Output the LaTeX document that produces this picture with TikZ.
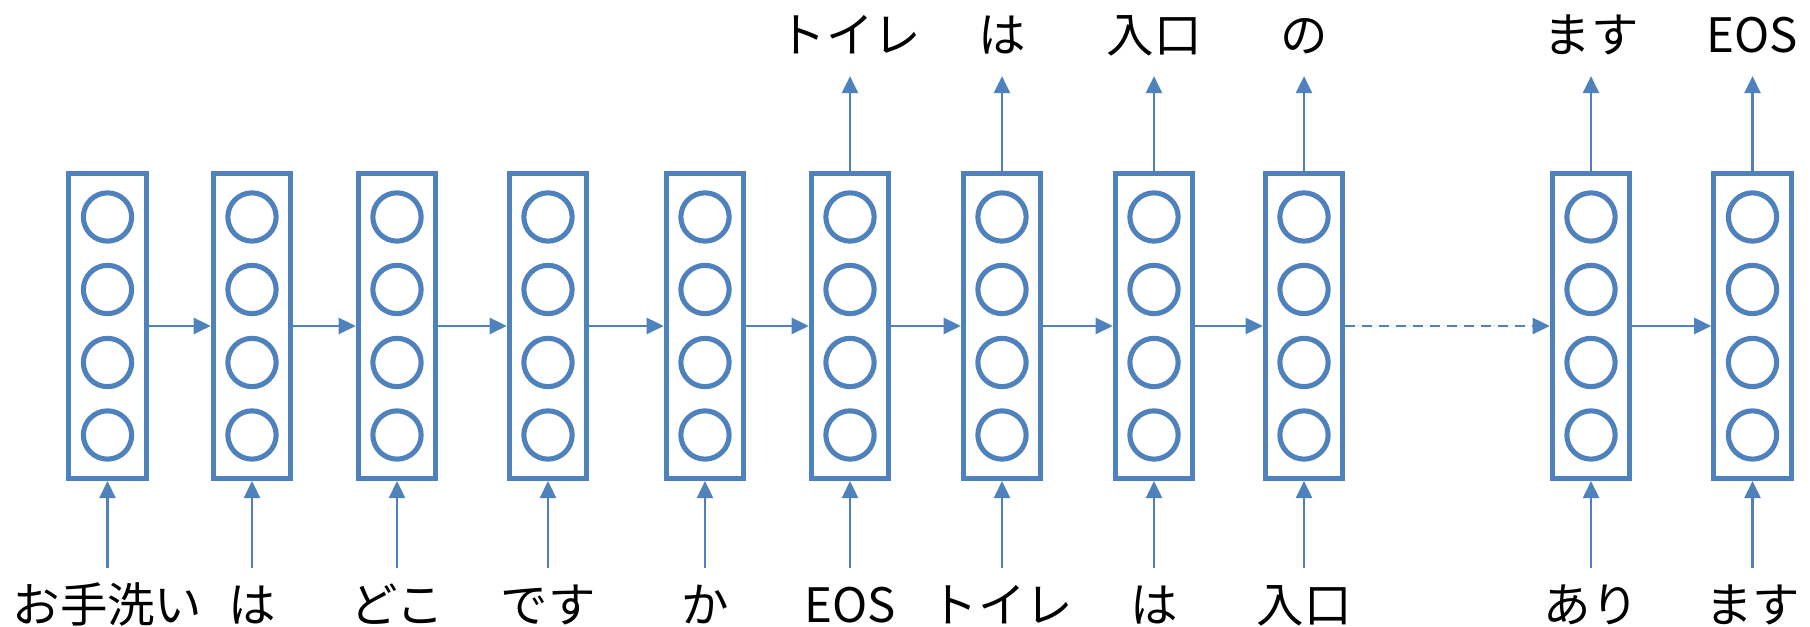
\documentclass[tikz,border=0pt]{standalone}
\usepackage{fontspec}
\setmainfont{Noto Sans CJK JP}
\usetikzlibrary{arrows.meta}
\definecolor{cellblue}{RGB}{79,129,189}

\begin{document}
\begin{tikzpicture}[cell/.style={draw=cellblue, line width=2.9pt,
                        minimum width=1.55cm, minimum height=6.1cm, inner sep=0pt,
                        path picture={
                          \draw[cellblue, line width=2.9pt] ([yshift=2.18cm]path picture bounding box.center) circle (0.483cm);
                          \draw[cellblue, line width=2.9pt] ([yshift=0.73cm]path picture bounding box.center) circle (0.483cm);
                          \draw[cellblue, line width=2.9pt] ([yshift=-0.73cm]path picture bounding box.center) circle (0.483cm);
                          \draw[cellblue, line width=2.9pt] ([yshift=-2.18cm]path picture bounding box.center) circle (0.483cm);
                        }},
                    word/.style={font=\fontsize{27}{32}\selectfont, text height=23.8pt,
                        text depth=3.2pt, inner sep=0pt, anchor=base},
                    word in/.style={word, outer sep=0.25cm},
                    word out/.style={word, outer sep=0.36cm},
                    link/.style={-{Triangle[length=0.34cm, width=0.32cm]}, draw=cellblue,
                        fill=cellblue, line width=1.45pt}]
      \useasboundingbox (0,0) rectangle (36.2,12.54);
      % hidden layers
      \node[cell] (otearai) at (2.15, 6.02) {};
      \node[cell] (wa) at (5.04, 6.02) {};
      \node[cell] (doko) at (7.94, 6.02) {};
      \node[cell] (desu) at (10.96, 6.02) {};
      \node[cell] (ka) at (14.10, 6.02) {};
      \node[cell] (eos) at (17.00, 6.02) {};
      \node[cell] (toire) at (20.04, 6.02) {};
      \node[cell] (wa_2) at (23.08, 6.02) {};
      \node[cell] (iriguchi) at (26.08, 6.02) {};
      \node[cell] (ari) at (31.82, 6.02) {};
      \node[cell] (masu) at (35.05, 6.02) {};
      % input words
      \node[word in] (otearai_in) at (2.15, 0.09) {お手洗い};
      \node[word in] (wa_in) at (5.04, 0.09) {は};
      \node[word in] (doko_in) at (7.94, 0.09) {どこ};
      \node[word in] (desu_in) at (10.96, 0.09) {です};
      \node[word in] (ka_in) at (14.10, 0.09) {か};
      \node[word in] (eos_in) at (17.00, 0.09) {EOS};
      \node[word in] (toire_in) at (20.04, 0.09) {トイレ};
      \node[word in] (wa_2_in) at (23.08, 0.09) {は};
      \node[word in] (iriguchi_in) at (26.08, 0.09) {入口};
      \node[word in] (ari_in) at (31.82, 0.09) {あり};
      \node[word in] (masu_in) at (35.05, 0.09) {ます};
      % output words
      \node[word out] (toire_out) at (17.00, 11.49) {トイレ};
      \node[word out] (wa_out) at (20.04, 11.49) {は};
      \node[word out] (iriguchi_out) at (23.08, 11.49) {入口};
      \node[word out] (no_out) at (26.08, 11.49) {の};
      \node[word out] (masu_out) at (31.82, 11.49) {ます};
      \node[word out] (eos_out) at (35.05, 11.49) {EOS};
      % inputs
      \draw[link] (otearai_in) -- (otearai);
      \draw[link] (wa_in) -- (wa);
      \draw[link] (doko_in) -- (doko);
      \draw[link] (desu_in) -- (desu);
      \draw[link] (ka_in) -- (ka);
      \draw[link] (eos_in) -- (eos);
      \draw[link] (toire_in) -- (toire);
      \draw[link] (wa_2_in) -- (wa_2);
      \draw[link] (iriguchi_in) -- (iriguchi);
      \draw[link] (ari_in) -- (ari);
      \draw[link] (masu_in) -- (masu);
      % recurrence
      \draw[link] (otearai) -- (wa);
      \draw[link] (wa) -- (doko);
      \draw[link] (doko) -- (desu);
      \draw[link] (desu) -- (ka);
      \draw[link] (ka) -- (eos);
      \draw[link] (eos) -- (toire);
      \draw[link] (toire) -- (wa_2);
      \draw[link] (wa_2) -- (iriguchi);
      \draw[link, dash pattern=on 0.2cm off 0.14cm] (iriguchi) -- (ari);
      \draw[link] (ari) -- (masu);
      % outputs
      \draw[link] (eos) -- (toire_out);
      \draw[link] (toire) -- (wa_out);
      \draw[link] (wa_2) -- (iriguchi_out);
      \draw[link] (iriguchi) -- (no_out);
      \draw[link] (ari) -- (masu_out);
      \draw[link] (masu) -- (eos_out);
    \end{tikzpicture}
\end{document}
